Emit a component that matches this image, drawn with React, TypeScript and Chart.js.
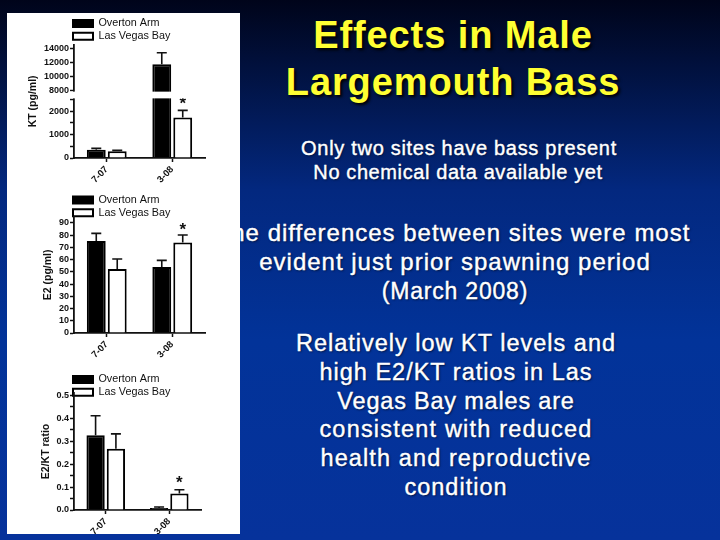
import { useEffect, useRef } from "react";
import { Chart, LinearScale, registerables, type Plugin } from "chart.js";

// y axis of the KT panel jumps from 2500 to 8000
class BrokenScale extends LinearScale {
  static id = "broken";
  static defaults = LinearScale.defaults;
  buildTicks() {
    this.start = this.min;
    this.end = this.max;
    return ktTicks.map((value) => ({ value }));
  }
  getPixelForValue(v: number) {
    let d;
    if (v <= 2500) d = (v / 2500) * 0.518;
    else if (v < 8000) d = 0.518 + ((v - 2500) / 5500) * 0.077;
    else d = 0.595 + ((v - 8000) / 6500) * 0.405;
    return this.getPixelForDecimal(d);
  }
}
Chart.register(...registerables, BrokenScale);

const sites = ["Overton Arm", "Las Vegas Bay"];
const dates = ["7-07", "3-08"];

const ktTicks = [0, 500, 1000, 1500, 2000, 2500, 8000, 10000, 12000, 14000];
const ktOverton = [353, 11730];
const ktOvertonErr = [57, 1645];
const ktVegas = [285, 1730];
const ktVegasErr = [40, 300];

const e2Overton = [75.1, 53.9];
const e2OvertonErr = [6.3, 5.4];
const e2Vegas = [52.2, 74];
const e2VegasErr = [8.2, 6];

const ratioOverton = [0.326, 0.009];
const ratioOvertonErr = [0.085, 0.004];
const ratioVegas = [0.267, 0.072];
const ratioVegasErr = [0.065, 0.016];

const titleLines = ["Effects in Male", "Largemouth Bass"];
const notes = [
  { text: "Only two sites have bass present", y: 148, size: 20, cx: 459, gap: 0.7 },
  { text: "No chemical data available yet", y: 172, size: 20, cx: 458, gap: 0.6 },
  { text: "The differences between sites were most", y: 233, size: 24, cx: 453, gap: 1 },
  { text: "evident just prior spawning period", y: 262, size: 24, cx: 455, gap: 1 },
  { text: "(March 2008)", y: 291, size: 23, cx: 455, gap: 0.8 },
  { text: "Relatively low KT levels and", y: 343, size: 23.5, cx: 456, gap: 1 },
  { text: "high E2/KT ratios in Las", y: 372, size: 23.5, cx: 456, gap: 1 },
  { text: "Vegas Bay males are", y: 401, size: 23.5, cx: 456, gap: 0.8 },
  { text: "consistent with reduced", y: 429, size: 23.5, cx: 456, gap: 1.2 },
  { text: "health and reproductive", y: 458, size: 23.5, cx: 456, gap: 1.1 },
  { text: "condition", y: 487, size: 23.5, cx: 456, gap: 1 },
];

const FONT = "'Liberation Sans', Arial, sans-serif";

type PanelProps = {
  top: number;
  height: number;
  yTitle: string;
  overton: number[];
  overtonErr: number[];
  vegas: number[];
  vegasErr: number[];
  yScale: any;
  titleX: number; // centre of the axis title, canvas px
  axisTop: number;
  axisBottom: number;
  axisRight: number;
  legendTop: number;
  starGap: number;
  broken?: boolean;
};

function Panel(p: PanelProps) {
  const ref = useRef<HTMLCanvasElement | null>(null);

  useEffect(() => {
    const el = ref.current;
    if (!el) return;

    const axisLeft = 67;
    const padLeft = p.titleX - 6.6;

    const marks: Plugin<"bar"> = {
      id: "marks",
      afterLayout(chart) {
        const lg: any = chart.legend;
        lg.left = 64;
        lg.top = p.legendTop;
        lg.right = lg.left + lg.width;
        lg.bottom = lg.top + lg.height;
      },
      afterDatasetsDraw(chart) {
        const ctx = chart.ctx;
        const y = chart.scales.y;
        const errs = [p.overtonErr, p.vegasErr];
        ctx.save();
        ctx.strokeStyle = "#111";
        ctx.lineWidth = 1.6;
        chart.data.datasets.forEach((ds, i) => {
          chart.getDatasetMeta(i).data.forEach((bar: any, j) => {
            const v = (ds.data[j] as number) + errs[i][j];
            const py = y.getPixelForValue(v);
            ctx.beginPath();
            ctx.moveTo(bar.x, y.getPixelForValue(ds.data[j] as number));
            ctx.lineTo(bar.x, py);
            ctx.moveTo(bar.x - 5, py);
            ctx.lineTo(bar.x + 5, py);
            ctx.stroke();
            if (i === 1 && j === 1) {
              ctx.fillStyle = "#111";
              ctx.font = `bold 17px ${FONT}`;
              ctx.textAlign = "center";
              ctx.textBaseline = "alphabetic";
              ctx.fillText("*", bar.x, py - p.starGap);
            }
          });
        });
        if (p.broken) {
          const a = y.getPixelForValue(8000);
          const b = y.getPixelForValue(2500);
          // cut the axis and the tall bar, the 8000 label stays
          ctx.fillStyle = "#fff";
          ctx.fillRect(y.right - 5, a + 1, chart.chartArea.right, b - a - 2);
        }
        ctx.restore();
      },
    };

    const chart = new Chart(el, {
      type: "bar",
      data: {
        labels: dates,
        datasets: [
          { label: sites[0], data: p.overton, backgroundColor: "#000", borderColor: "#000", borderWidth: 2 },
          { label: sites[1], data: p.vegas, backgroundColor: "#fff", borderColor: "#000", borderWidth: 2 },
        ],
      },
      options: {
        animation: false,
        responsive: false,
        layout: { padding: { left: padLeft, right: 233 - p.axisRight, top: p.axisTop, bottom: 0 } },
        datasets: { bar: { categoryPercentage: 0.64, barPercentage: 0.9 } },
        plugins: {
          tooltip: { enabled: false },
          legend: {
            position: "chartArea",
            align: "start",
            labels: {
              boxWidth: 20,
              boxHeight: 7,
              padding: 2,
              color: "#111",
              font: { family: FONT, size: 10.8 },
            },
          },
        },
        scales: {
          x: {
            grid: {
              offset: false,
              drawOnChartArea: false,
              tickLength: 4,
              tickColor: "#111",
              tickWidth: 1.5,
            },
            border: { color: "#111", width: 1.8 },
            ticks: {
              minRotation: 45,
              maxRotation: 45,
              padding: 2,
              color: "#111",
              font: { family: FONT, size: 9.5, weight: "bold" },
            },
            afterFit: (s: any) => {
              s.height = p.height - p.axisBottom;
            },
          },
          y: {
            ...p.yScale,
            grid: {
              drawOnChartArea: false,
              tickLength: 4,
              tickColor: "#111",
              tickWidth: 1.5,
            },
            border: { color: "#111", width: 1.8 },
            title: {
              display: true,
              text: p.yTitle,
              color: "#111",
              padding: 0,
              font: { family: FONT, size: 10.5, weight: "bold" },
            },
            ticks: {
              ...p.yScale.ticks,
              autoSkip: false,
              padding: 1,
              color: "#111",
              font: { family: FONT, size: 9, weight: "bold" },
            },
            afterFit: (s: any) => {
              s.width = axisLeft - padLeft;
            },
          },
        },
      },
      plugins: [marks],
    });

    return () => chart.destroy();
  }, []);

  return (
    <canvas
      ref={ref}
      width={233}
      height={p.height}
      style={{ position: "absolute", left: 0, top: p.top, display: "block" }}
    />
  );
}

export default function App() {
  document.body.style.margin = "0";
  return (
    <div
      style={{
        position: "relative",
        width: 720,
        height: 540,
        overflow: "hidden",
        fontFamily: FONT,
        background: "linear-gradient(#00041a 0px, #03287f 190px, #023399 340px, #06329b 540px)",
      }}
    >
      {titleLines.map((t, i) => (
        <div
          key={t}
          style={{
            position: "absolute",
            left: 200,
            width: 506,
            top: 12 + i * 47,
            lineHeight: "46px",
            textAlign: "center",
            fontSize: 38,
            fontWeight: "bold",
            letterSpacing: 0.9,
            color: "#ffff33",
            textShadow: "2px 2px 3px #000",
          }}
        >
          {t}
        </div>
      ))}
      {notes.map((n) => (
        <div
          key={n.text}
          style={{
            position: "absolute",
            left: n.cx - 260,
            width: 520,
            top: n.y - 14,
            lineHeight: "28px",
            textAlign: "center",
            fontSize: n.size,
            letterSpacing: n.gap,
            color: "#fff",
            WebkitTextStroke: "0.4px #fff",
            textShadow: "1px 1px 2px #00143f",
          }}
        >
          {n.text}
        </div>
      ))}
      <div
        style={{
          position: "absolute",
          left: 7,
          top: 13,
          width: 233,
          height: 521,
          background: "#fff",
          overflow: "hidden",
          filter: "blur(0.35px)",
        }}
      >
        <Panel
          top={0}
          height={174}
          yTitle="KT (pg/ml)"
          overton={ktOverton}
          overtonErr={ktOvertonErr}
          vegas={ktVegas}
          vegasErr={ktVegasErr}
          yScale={{
            type: "broken",
            min: 0,
            max: 14500,
            ticks: { callback: (v: number) => (v % 1000 === 0 ? String(v) : "") },
          }}
          titleX={26}
          axisTop={31.8}
          axisBottom={145}
          axisRight={198}
          legendTop={3}
          starGap={1}
          broken
        />
        <Panel
          top={174}
          height={178}
          yTitle="E2 (pg/ml)"
          overton={e2Overton}
          overtonErr={e2OvertonErr}
          vegas={e2Vegas}
          vegasErr={e2VegasErr}
          yScale={{ min: 0, max: 95, ticks: { stepSize: 10, includeBounds: false } }}
          titleX={41}
          axisTop={29.7}
          axisBottom={146}
          axisRight={198}
          legendTop={5.5}
          starGap={0}
        />
        <Panel
          top={352}
          height={169}
          yTitle="E2/KT ratio"
          overton={ratioOverton}
          overtonErr={ratioOvertonErr}
          vegas={ratioVegas}
          vegasErr={ratioVegasErr}
          yScale={{
            min: 0,
            max: 0.51,
            ticks: {
              stepSize: 0.05,
              includeBounds: false,
              callback: (v: number) => (Math.round(v * 100) % 10 === 0 ? v.toFixed(1) : ""),
            },
          }}
          titleX={39}
          axisTop={28}
          axisBottom={145}
          axisRight={194}
          legendTop={7}
          starGap={2}
        />
      </div>
    </div>
  );
}
